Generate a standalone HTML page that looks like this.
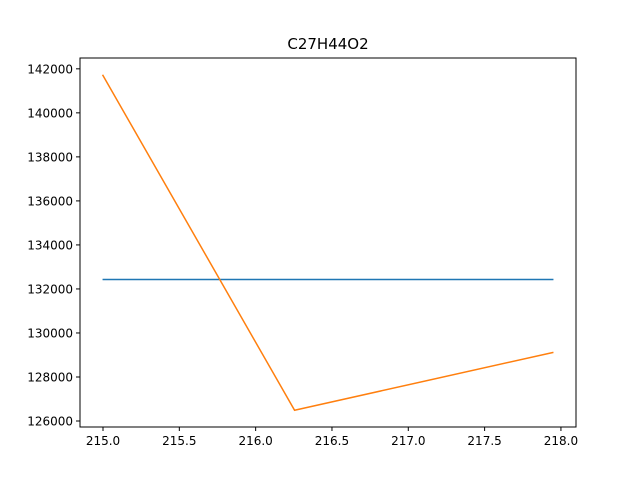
<!DOCTYPE html>
<html><head><meta charset="utf-8"><style>
body{margin:0;background:#fff}
svg{display:block;font-family:"DejaVu Sans","Liberation Sans",sans-serif}
</style></head><body>
<svg id="chart" width="640" height="480">
<rect width="640" height="480" fill="#fff"/>
<text x="328" y="49" text-anchor="middle" font-size="15">C27H44O2</text>
<g id="grid"></g>
<g id="series"></g>
<rect x="80" y="58" width="496" height="369" fill="none" stroke="#000" stroke-width="1"/>
</svg>
<script>
const xTicks=[215.0,215.5,216.0,216.5,217.0,217.5,218.0];
const yTicks=[126000,128000,130000,132000,134000,136000,138000,140000,142000];
const blueX=[214.997,217.951];
const blueY=[132430,132430];
const orangeX=[214.997,216.255,217.951];
const orangeY=[141730,126490,129120];
const L=80,R=576,T=58,B=427;
const xmin=214.997,xmax=217.951,ymin=126490,ymax=141730;
const xs=v=>L+(R-L)*(0.05+(v-xmin)/(xmax-xmin))/1.1;
const ys=v=>B-(B-T)*(0.05+(v-ymin)/(ymax-ymin))/1.1;
const NS="http://www.w3.org/2000/svg";
const g=document.getElementById('grid'),s=document.getElementById('series');
function mk(tag,attrs,parent){const e=document.createElementNS(NS,tag);for(const k in attrs)e.setAttribute(k,attrs[k]);parent.appendChild(e);return e;}
xTicks.forEach(t=>{const x=xs(t);
 const l=mk('line',{x1:x,x2:x,y1:B,y2:B+4,stroke:'#000'},g);
 
 
 const tx=mk('text',{x:x,y:B+18,'text-anchor':'middle','font-size':'12'},g);tx.textContent=t.toFixed(1);
 
 
});
yTicks.forEach(t=>{const y=ys(t);
 const l=mk('line',{x1:L-4,x2:L,y1:y,y2:y,stroke:'#000'},g);
 
 
 const tx=mk('text',{x:L-7,y:y+4.5,'text-anchor':'end','font-size':'12'},g);tx.textContent=t;
 
 
});
function line(X,Y,c,name){const p=mk('polyline',{points:X.map((x,i)=>xs(x)+','+ys(Y[i])).join(' '),fill:'none',stroke:c,'stroke-width':1.5},s);
 
 }
line(blueX,blueY,'#1f77b4','series-blue-line');
line(orangeX,orangeY,'#ff7f0e','series-orange-line');
</script>
</body></html>
